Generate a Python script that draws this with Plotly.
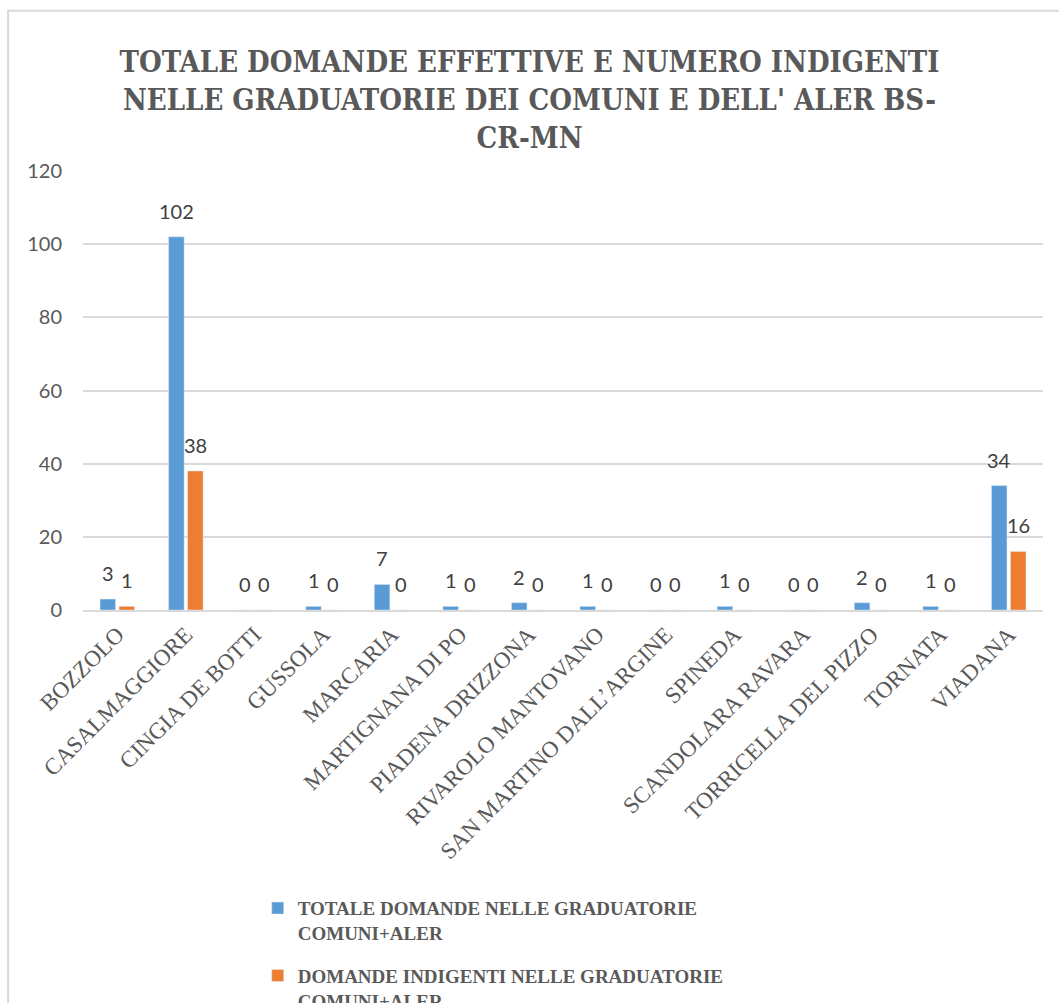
import plotly.graph_objects as go

categories = [
    "BOZZOLO", "CASALMAGGIORE", "CINGIA DE BOTTI", "GUSSOLA", "MARCARIA",
    "MARTIGNANA DI PO", "PIADENA DRIZZONA", "RIVAROLO MANTOVANO",
    "SAN MARTINO DALL’ARGINE", "SPINEDA", "SCANDOLARA RAVARA",
    "TORRICELLA DEL PIZZO", "TORNATA", "VIADANA",
]
totale = [3, 102, 0, 1, 7, 1, 2, 1, 0, 1, 0, 2, 1, 34]
indigenti = [1, 38, 0, 0, 0, 0, 0, 0, 0, 0, 0, 0, 0, 16]

name_tot = "TOTALE DOMANDE NELLE GRADUATORIE<br>COMUNI+ALER"
name_ind = "DOMANDE INDIGENTI NELLE GRADUATORIE<br>COMUNI+ALER"

BLUE = "#5B9BD5"
ORANGE = "#ED7D31"
GREY = "#595959"
SERIF = "Liberation Serif"
TITLE_FONT = "DejaVu Serif Condensed, DejaVu Serif"
SANS = "Lato"

fig = go.Figure()

fig.add_trace(go.Bar(
    x=categories, y=totale, name=name_tot,
    marker=dict(color=BLUE), legendgroup="a",
))
fig.add_trace(go.Bar(
    x=categories, y=indigenti, name=name_ind,
    marker=dict(color=ORANGE), legendgroup="b",
))

# data labels above each bar
for series, shift in [(totale, -9.5), (indigenti, 9.5)]:
    for cat, val in zip(categories, series):
        fig.add_annotation(
            x=cat, y=val, text=str(val), showarrow=False,
            xshift=shift, yshift=26, yanchor="middle",
            font=dict(family=SANS, size=20, color="#404040"),
        )

# chart border
fig.add_shape(
    type="rect", xref="paper", yref="paper",
    x0=-0.078, x1=1.2, y0=-1.2, y1=1.365,
    line=dict(color="#d9d9d9", width=2), fillcolor="rgba(0,0,0,0)",
    layer="below",
)

fig.update_layout(
    width=1059, height=1003,
    margin=dict(l=83, r=16, t=171, b=393, autoexpand=False),
    paper_bgcolor="white", plot_bgcolor="white",
    barmode="group", bargap=0.446, bargroupgap=0.18,
    title=dict(
        text="TOTALE DOMANDE EFFETTIVE E NUMERO INDIGENTI<br>"
             "NELLE GRADUATORIE DEI COMUNI E DELL' ALER BS-<br>CR-MN",
        x=0.5, xref="container", xanchor="center",
        y=0.928, yanchor="middle",
        font=dict(family=TITLE_FONT, size=29, color=GREY, weight="bold"),
    ),
    legend=dict(
        orientation="v", x=0.182, xanchor="left",
        y=-0.636, yanchor="top", valign="top",
        traceorder="grouped", tracegroupgap=15,
        font=dict(family=SERIF, size=19, color=GREY, weight="bold"),
        bgcolor="rgba(0,0,0,0)",
    ),
)

fig.update_xaxes(
    tickangle=-45,
    tickfont=dict(family=SERIF, size=23, color=GREY),
    showline=True, linecolor="#d9d9d9", linewidth=2,
    showgrid=False, ticks="",
)
fig.update_yaxes(
    range=[0, 120], dtick=20,
    showgrid=True, gridcolor="#d9d9d9", gridwidth=1.5,
    zeroline=False, showline=False,
    tickfont=dict(family=SANS, size=20, color=GREY),
    ticklabelstandoff=20,
)

fig.write_html(
    "out.html",
    config={"displayModeBar": False},
    post_script="document.body.style.margin='0';",
)
